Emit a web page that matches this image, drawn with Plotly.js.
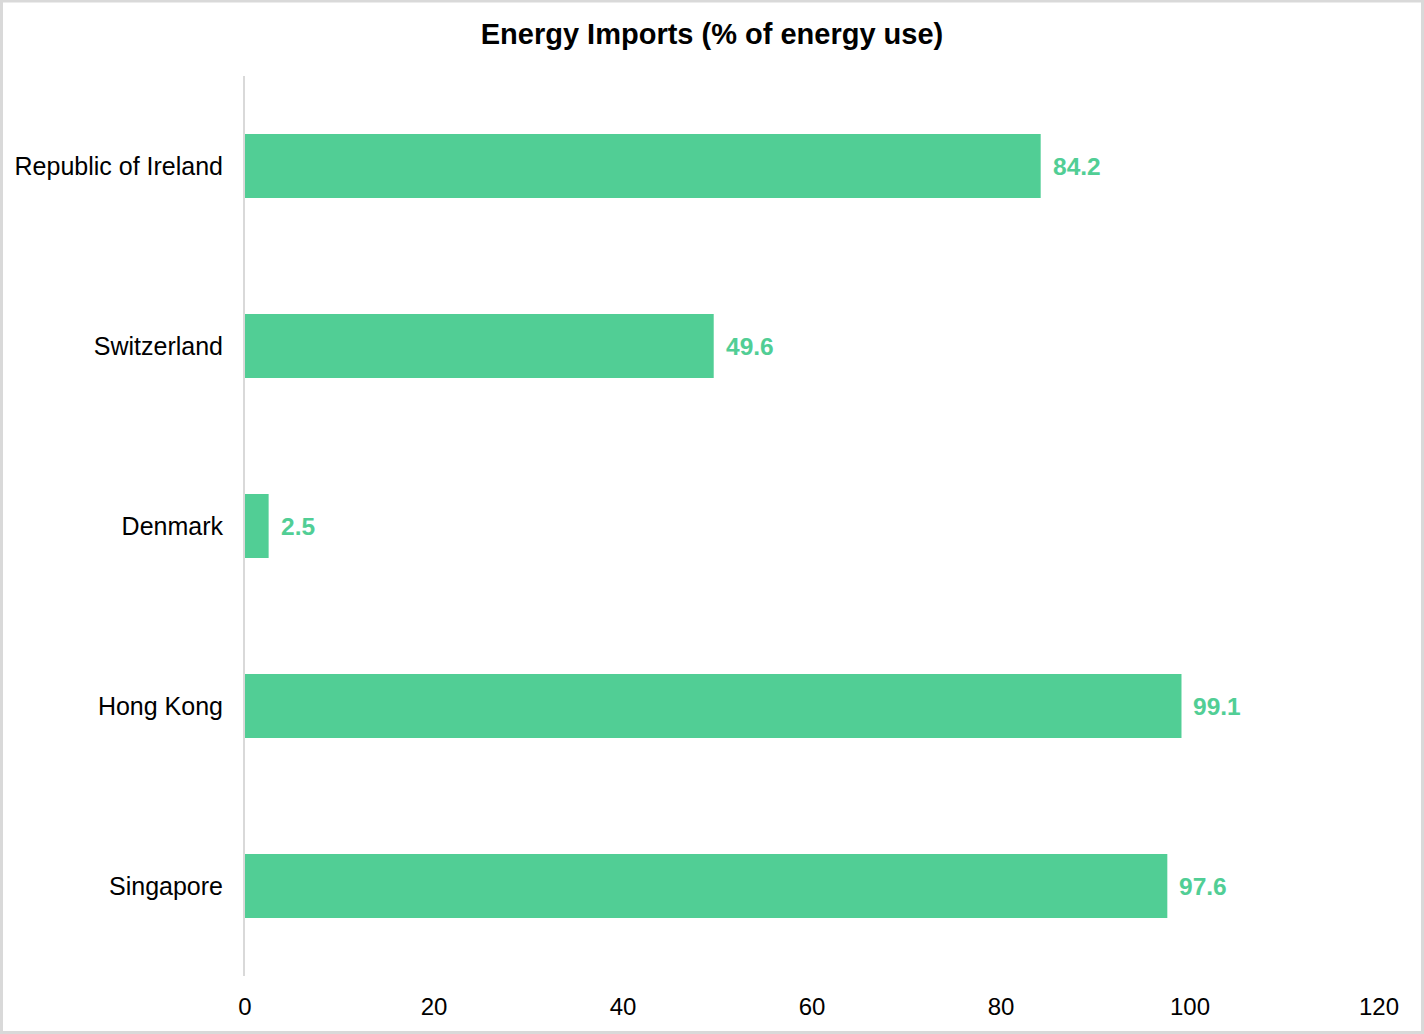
<!DOCTYPE html>
<html>
<head>
<meta charset="utf-8">
<script src="https://cdn.plot.ly/plotly-3.0.1.min.js"></script>
<style>
  html, body { margin: 0; padding: 0; background: #fff; }
  #chart { width: 1424px; height: 1034px; }
</style>
</head>
<body>
<div id="chart"></div>
<script>
const countries = ["Republic of Ireland", "Switzerland", "Denmark", "Hong Kong", "Singapore"];
const importsPct = [84.2, 49.6, 2.5, 99.1, 97.6];
const xTickValues = [0, 20, 40, 60, 80, 100, 120];

const barColor = "#51ce95";
const fontFamily = "Liberation Sans, Arial, sans-serif";

const trace = {
  type: "bar",
  orientation: "h",
  x: importsPct,
  y: countries,
  marker: { color: barColor },
  width: 0.355,
  hoverinfo: "x+y"
};

const annotations = countries.map((c, i) => ({
  x: importsPct[i],
  y: c,
  xref: "x",
  yref: "y",
  text: String(importsPct[i]),
  showarrow: false,
  xanchor: "left",
  yanchor: "middle",
  xshift: 10,
  font: { family: fontFamily, size: 24.5, color: barColor, weight: 700 }
}));

const W = 1424, H = 1034, L = 245, R = 45, T = 76, B = 58;
const pw = W - L - R, ph = H - T - B;

const layout = {
  width: W,
  height: H,
  margin: { l: L, r: R, t: T, b: B, pad: 0 },
  paper_bgcolor: "#ffffff",
  plot_bgcolor: "#ffffff",
  font: { family: fontFamily, size: 24, color: "#000000" },
  title: {
    text: "Energy Imports (% of energy use)",
    font: { family: fontFamily, size: 29, color: "#000000", weight: 700 },
    x: 0.5, xref: "container", xanchor: "center",
    y: 1 - 34 / H, yref: "container", yanchor: "middle"
  },
  xaxis: {
    range: [0, 120],
    tickvals: xTickValues,
    ticktext: xTickValues.map(String),
    showgrid: false,
    zeroline: false,
    showline: false,
    ticks: "",
    ticklabelstandoff: 14,
    tickfont: { family: fontFamily, size: 24, color: "#000000" },
    fixedrange: true
  },
  yaxis: {
    type: "category",
    categoryorder: "array",
    categoryarray: countries,
    autorange: "reversed",
    showgrid: false,
    zeroline: false,
    showline: true,
    linecolor: "#d9d9d9",
    linewidth: 2,
    ticks: "",
    ticklabelstandoff: 15,
    tickfont: { family: fontFamily, size: 25, color: "#000000" },
    fixedrange: true
  },
  showlegend: false,
  annotations: annotations,
  shapes: [{
    type: "rect",
    xref: "paper", yref: "paper",
    x0: (1.5 - L) / pw, x1: (W - 1.5 - L) / pw,
    y0: (T + ph - (H - 1.5)) / ph, y1: (T + ph - 1) / ph,
    line: { color: "#d9d9d9", width: 3 },
    fillcolor: "rgba(0,0,0,0)",
    layer: "above"
  }]
};

Plotly.newPlot("chart", [trace], layout, { displayModeBar: false });
</script>
</body>
</html>
